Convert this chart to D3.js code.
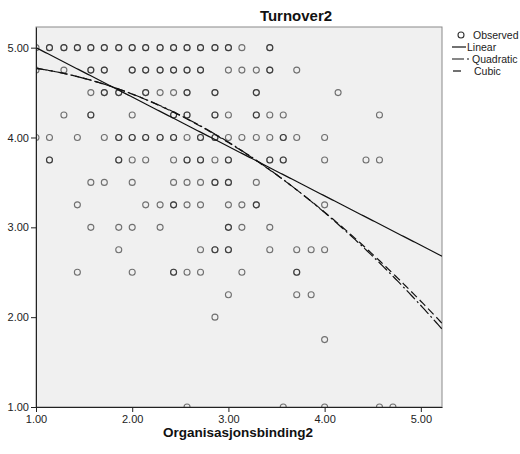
<!DOCTYPE html>
<html>
<head>
<meta charset="utf-8">
<script src="https://cdn.jsdelivr.net/npm/d3@7"></script>
<style>
  body { margin: 0; background: #fff; }
  text { font-family: Arial, "Liberation Sans", sans-serif; }
</style>
</head>
<body>
<div id="chart"></div>
<script>
const width = 520;
const height = 454;

// Turnover2 levels and the Organisasjonsbinding2 values observed at each level
const turnoverLevels = [5.00, 4.75, 4.50, 4.25, 4.00, 3.75, 3.50, 3.25, 3.00, 2.75, 2.50, 2.25, 2.00, 1.75, 1.00];
const bindingAtLevel = [
  [1.00, 1.14, 1.29, 1.43, 1.57, 1.71, 1.86, 2.00, 2.14, 2.29, 2.43, 2.57, 2.71, 2.86, 3.00, 3.14, 3.43],
  [1.00, 1.29, 1.57, 1.71, 2.00, 2.14, 2.29, 2.43, 2.57, 2.71, 3.00, 3.14, 3.29, 3.43, 3.71],
  [1.57, 1.71, 1.86, 2.14, 2.29, 2.43, 2.57, 2.86, 3.29, 4.14],
  [1.29, 1.57, 2.00, 2.43, 2.57, 2.86, 3.00, 3.29, 3.43, 3.57, 4.57],
  [1.00, 1.14, 1.43, 1.71, 1.86, 2.00, 2.14, 2.29, 2.43, 2.57, 2.71, 2.86, 3.00, 3.14, 3.29, 3.43, 3.57, 3.71, 4.00],
  [1.14, 1.86, 2.00, 2.14, 2.43, 2.57, 2.71, 2.86, 3.00, 3.43, 3.57, 4.00, 4.43, 4.57],
  [1.57, 1.71, 2.00, 2.43, 2.57, 2.71, 2.86, 3.00, 3.29],
  [1.43, 2.14, 2.29, 2.43, 2.57, 2.71, 3.00, 3.14, 3.29, 4.00],
  [1.57, 1.86, 2.00, 2.29, 3.00, 3.14, 3.43],
  [1.86, 2.71, 2.86, 3.00, 3.43, 3.71, 3.86, 4.00],
  [1.43, 2.00, 2.43, 2.57, 2.71, 3.14, 3.71],
  [3.00, 3.71, 3.86],
  [2.86],
  [4.00],
  [2.57, 3.57, 4.00, 4.57, 4.71]
];
// extra cases on the same spot (darker circles)
const repeatedAtLevel = [
  [1.14, 1.29, 1.43, 1.57, 1.71, 1.86, 2.00, 2.14, 2.29, 2.43, 2.57, 2.71, 2.86, 3.00, 3.43],
  [1.57, 1.71, 2.00, 2.14, 2.29, 2.43, 2.57, 2.71, 3.43],
  [1.71, 1.86, 2.14, 2.57, 2.86, 3.29],
  [1.57, 2.43, 2.57, 2.86, 3.29],
  [1.86, 2.00, 2.14, 2.29, 2.43, 2.71, 2.86, 3.57],
  [1.14, 1.86, 2.57, 2.71, 3.00, 3.43, 3.57],
  [2.86, 3.00],
  [2.43, 3.29],
  [3.00],
  [2.86, 3.00],
  [2.43, 3.71],
  [], [], [], []
];

const xTicks = [1, 2, 3, 4, 5];
const yTicks = [1, 2, 3, 4, 5];

// fitted curves, coefficients for 1, x, x^2, x^3
const linearCoef = [5.55, -0.55];
const quadraticCoef = [4.807, 0.088, -0.1247];
const cubicCoef = [4.785, 0.126, -0.1445, 0.003];

const fits = [
  { name: 'Linear', coef: linearCoef, dash: null },
  { name: 'Quadratic', coef: quadraticCoef, dash: '12,3,2,3' },
  { name: 'Cubic', coef: cubicCoef, dash: '8,4' }
];

const plot = { left: 36, top: 27, right: 442, bottom: 407 };

const x = d3.scaleLinear().domain([1, 5.22]).range([plot.left, plot.right]);
const y = d3.scaleLinear().domain([1, 5.23]).range([plot.bottom, plot.top]);

const points = [];
turnoverLevels.forEach((lvl, i) => {
  bindingAtLevel[i].forEach(b => points.push({ x: b, y: lvl }));
  repeatedAtLevel[i].forEach(b => points.push({ x: b, y: lvl }));
});

const svg = d3.select('#chart').append('svg').attr('width', width).attr('height', height);

svg.append('defs').append('clipPath').attr('id', 'plotclip')
  .append('rect')
  .attr('x', plot.left).attr('y', plot.top)
  .attr('width', plot.right - plot.left).attr('height', plot.bottom - plot.top);

svg.append('rect')
  .attr('x', plot.left).attr('y', plot.top)
  .attr('width', plot.right - plot.left).attr('height', plot.bottom - plot.top)
  .style('fill', '#f0f0f0')
  .style('stroke', '#8a8a8a');

const inner = svg.append('g').attr('clip-path', 'url(#plotclip)');

inner.selectAll('circle.obs')
  .data(points)
  .join('circle')
  .attr('class', 'obs')
  .attr('cx', d => x(d.x))
  .attr('cy', d => y(d.y))
  .attr('r', 3)
  .style('fill', 'none')
  .style('stroke', '#1a1a1a')
  .style('stroke-opacity', 0.6)
  .style('stroke-width', 1.1);

const poly = (coef, v) => coef.reduce((s, c, i) => s + c * Math.pow(v, i), 0);
const xs = d3.range(1, 5.2201, 0.02);
const line = d3.line().x(d => x(d[0])).y(d => y(d[1]));

inner.selectAll('path.fit')
  .data(fits)
  .join('path')
  .attr('class', 'fit')
  .attr('d', f => line(xs.map(v => [v, poly(f.coef, v)])))
  .style('fill', 'none')
  .style('stroke', '#111')
  .style('stroke-width', 1.2)
  .style('stroke-dasharray', f => f.dash);

const yAxis = svg.append('g')
  .attr('transform', `translate(${plot.left},0)`)
  .call(d3.axisLeft(y).tickValues(yTicks).tickFormat(d3.format('.2f')).tickSize(5).tickSizeOuter(0).tickPadding(2));

const xAxis = svg.append('g')
  .attr('transform', `translate(0,${plot.bottom})`)
  .call(d3.axisBottom(x).tickValues(xTicks).tickFormat(d3.format('.2f')).tickSize(5).tickSizeOuter(0).tickPadding(3));

[xAxis, yAxis].forEach(a => {
  a.select('.domain').style('stroke', '#222');
  a.selectAll('.tick line').style('stroke', '#222');
  a.selectAll('.tick text').style('fill', '#222').style('font-size', '11px').style('font-family', 'Arial, "Liberation Sans", sans-serif');
});

svg.append('text')
  .attr('x', 296).attr('y', 21)
  .attr('text-anchor', 'middle')
  .style('font-size', '15px').style('font-weight', 'bold').style('fill', '#111')
  .text('Turnover2');

svg.append('text')
  .attr('x', 238).attr('y', 437)
  .attr('text-anchor', 'middle')
  .style('font-size', '13.5px').style('font-weight', 'bold').style('fill', '#111')
  .text('Organisasjonsbinding2');

// legend
const legend = svg.append('g').style('font-size', '10.5px').style('fill', '#222');

legend.append('circle').attr('cx', 461).attr('cy', 35).attr('r', 3)
  .style('fill', 'none').style('stroke', '#333').style('stroke-width', 1.1);
legend.append('text').attr('x', 473).attr('y', 39).text('Observed');

const legendRows = [
  { fit: fits[0], y: 47, x1: 452, x2: 466, tx: 467 },
  { fit: fits[1], y: 59, x1: 452, x2: 470, tx: 472 },
  { fit: fits[2], y: 71, x1: 453, x2: 461, tx: 474 }
];

legendRows.forEach(r => {
  legend.append('line')
    .attr('x1', r.x1).attr('x2', r.x2).attr('y1', r.y).attr('y2', r.y)
    .style('stroke', '#111').style('stroke-width', 1.2)
    .style('stroke-dasharray', r.fit.dash);
  legend.append('text').attr('x', r.tx).attr('y', r.y + 4).text(r.fit.name);
});
</script>
</body>
</html>
